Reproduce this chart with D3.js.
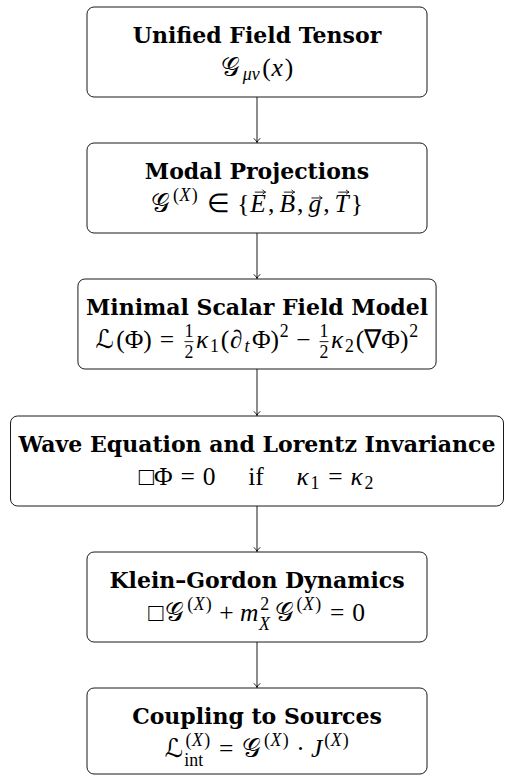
<!DOCTYPE html>
<html><head><meta charset="utf-8">
<script src="https://cdn.jsdelivr.net/npm/d3@7"></script>
<style>html,body{margin:0;padding:0;background:#fff;} svg{display:block}</style>
</head><body>
<script>
// ---------- DATA ----------
const steps = [
  "Unified Field Tensor",
  "Modal Projections",
  "Minimal Scalar Field Model",
  "Wave Equation and Lorentz Invariance",
  "Klein\u2013Gordon Dynamics",
  "Coupling to Sources"
];
const supX = [["rm","("],["it","X"],["rm",")"]];
const formula1 = [["cal","𝒢"],["sub",[["it","μν"]]],["rm","("],["it","x"],["rm",")"]];
const formula2 = [["cal","𝒢"],["sup",supX],["rel","∈"],["rm","{"],["vec","E"],["punct",","],["vec","B"],["punct",","],["vec","g"],["punct",","],["vec","T"],["rm","}"]];
const formula3 = [["cal","ℒ"],["rm","(Φ)"],["rel","="],["frac","1","2"],["it","κ"],["sub",[["rm","1"]]],["rm","("],["it","∂"],["sub",[["it","t"]]],["rm","Φ)"],["sup",[["rm","2"]]],["bin","−"],["frac","1","2"],["it","κ"],["sub",[["rm","2"]]],["rm","(∇Φ)"],["sup",[["rm","2"]]]];
const formula4 = [["rm","□Φ"],["rel","="],["rm","0"],["quad"],["rm","if"],["quad"],["it","κ"],["sub",[["rm","1"]]],["rel","="],["it","κ"],["sub",[["rm","2"]]]];
const formula5 = [["rm","□"],["cal","𝒢"],["sup",supX],["bin","+"],["it","m"],["subsup",[["it","X"]],[["rm","2"]]],["cal","𝒢"],["sup",supX],["rel","="],["rm","0"]];
const formula6 = [["cal","ℒ"],["subsup",[["rm","int"]],supX],["rel","="],["cal","𝒢"],["sup",supX],["bin","·"],["it","J"],["sup",supX]];
const formulas = [formula1, formula2, formula3, formula4, formula5, formula6];

// ---------- LAYOUT / STYLE ----------
const W = 505, H = 776;
const MATH = 25.5, TITLE = 22;
const cx = 257;
const boxH = 90, minW = 340, pad = 8;
const titleDy = 36, mathDy = 69;
const fonts = {
  it:  {family:"'Liberation Serif','Times New Roman',serif", style:"italic", weight:"normal"},
  rm:  {family:"'Liberation Serif','Times New Roman',serif", style:"normal", weight:"normal"},
  cal: {family:"'DejaVu Serif','DejaVu Sans','Noto Sans',serif", style:"normal", weight:"normal"},
  bf:  {family:"'DejaVu Serif',serif", style:"normal", weight:"bold"}
};

const svg = d3.select("body").append("svg").attr("width", W).attr("height", H);
const measurer = svg.append("text").attr("visibility","hidden");
function measure(str, kind, size){
  const f = fonts[kind];
  measurer.text(str).attr("font-family", f.family).attr("font-style", f.style)
    .attr("font-weight", f.weight).attr("font-size", size);
  return measurer.node().getComputedTextLength();
}

function layout(tokens, size){
  let x = 0; const items = [];
  const gap = 0.03*size;
  const putText = (str, kind, sz, dx, dy) => {
    const w = measure(str, kind, sz);
    items.push({type:"text", str, kind, size:sz, x:x+dx, y:dy});
    return w + gap;
  };
  tokens.forEach(tk => {
    const [type, a, b] = tk;
    if (type === "it" || type === "rm") {
      x += putText(a, type, size, 0, 0);
      if (type === "it") x += 0.04*size;
    } else if (type === "cal") {
      x += 0.04*size;
      x += putText(a, type, size, 0, 0);
      x += 0.08*size;
    } else if (type === "rel") {
      x += size*5/18; x += putText(a, "rm", size, 0, 0); x += size*5/18;
    } else if (type === "bin") {
      x += size*4/18; x += putText(a, "rm", size, 0, 0); x += size*4/18;
    } else if (type === "punct") {
      x += putText(a, "rm", size, 0, 0); x += size/6;
    } else if (type === "quad") {
      x += 1.25*size;
    } else if (type === "sup" || type === "sub" || type === "subsup") {
      const ss = size*0.7;
      let supL = null, subL = null;
      if (type === "sup") supL = layout(a, ss);
      if (type === "sub") subL = layout(a, ss);
      if (type === "subsup") { subL = layout(a, ss); supL = layout(b, ss); }
      const supShift = -0.44*size, subShift = (supL ? 0.35 : 0.17)*size;
      let w = 0;
      if (supL) { supL.items.forEach(it => items.push(Object.assign({}, it, {x: it.x + x, y: it.y + supShift}))); w = Math.max(w, supL.width); }
      if (subL) { subL.items.forEach(it => items.push(Object.assign({}, it, {x: it.x + x - (supL?0.05*size:0), y: it.y + subShift}))); w = Math.max(w, subL.width); }
      x += w + 0.05*size;
    } else if (type === "frac") {
      const ss = size*0.7;
      const wn = measure(a, "rm", ss), wd = measure(b, "rm", ss);
      const fw = Math.max(wn, wd);
      x += 0.1*size;
      items.push({type:"text", str:a, kind:"rm", size:ss, x:x+(fw-wn)/2, y:-0.42*size});
      items.push({type:"text", str:b, kind:"rm", size:ss, x:x+(fw-wd)/2, y:0.39*size});
      items.push({type:"rule", x:x, y:-0.25*size, w:fw});
      x += fw + 0.1*size;
    } else if (type === "vec") {
      const w = measure(a, "it", size);
      items.push({type:"text", str:a, kind:"it", size, x, y:0});
      const lower = a === a.toLowerCase();
      items.push({type:"vec", x: x + w*0.5 + 0.08*size, y: lower ? -0.55*size : -0.78*size, w: 0.42*size});
      x += w + 0.05*size + gap;
    }
  });
  return {items, width: x};
}

// ---------- DRAW ----------
const yScale = d3.scaleLinear().domain([0, steps.length - 1]).range([7, 688]);

const nodes = steps.map((title, i) => {
  const tw = measure(title, "bf", TITLE);
  const lay = layout(formulas[i], MATH);
  const w = Math.min(W - 8, Math.max(minW, tw + 2*pad, lay.width + 2*pad));
  const top = Math.round(yScale(i));
  const h = Math.min(boxH, H - 2 - top);
  return {title, tw, lay, w, top, h};
});

// arrows
const defs = svg.append("defs");
defs.append("marker").attr("id","arr").attr("viewBox","-6 -5 8 10")
  .attr("refX",0).attr("refY",0).attr("markerWidth",8).attr("markerHeight",10)
  .attr("markerUnits","userSpaceOnUse").attr("orient","auto")
  .append("path").attr("d","M-4.2,-3.2 Q-1.8,-0.6 0,0 Q-1.8,0.6 -4.2,3.2")
  .attr("fill","none").attr("stroke","#000").attr("stroke-width",0.9);

svg.selectAll("line.link").data(d3.pairs(nodes)).join("line")
  .attr("class","link")
  .attr("x1", cx).attr("x2", cx)
  .attr("y1", d => d[0].top + d[0].h)
  .attr("y2", d => d[1].top - 0.5)
  .attr("stroke","#000").attr("stroke-width",0.9)
  .attr("marker-end","url(#arr)");

const g = svg.selectAll("g.node").data(nodes).join("g").attr("class","node");
g.append("rect")
  .attr("x", d => cx - d.w/2).attr("y", d => d.top)
  .attr("width", d => d.w).attr("height", d => d.h)
  .attr("rx", 7).attr("ry", 7)
  .attr("fill","#fff").attr("stroke","#000").attr("stroke-width",0.9);

g.append("text")
  .attr("x", cx).attr("y", d => d.top + titleDy)
  .attr("text-anchor","middle")
  .attr("font-family", fonts.bf.family).attr("font-weight","bold")
  .attr("font-size", TITLE).attr("fill","#000")
  .text(d => d.title);

const mg = g.append("g")
  .attr("transform", d => `translate(${cx - d.lay.width/2},${d.top + mathDy})`);

mg.each(function(d){
  const sel = d3.select(this);
  const txt = sel.append("text").attr("fill","#000");
  d.lay.items.filter(it => it.type === "text").forEach(it => {
    const f = fonts[it.kind];
    txt.append("tspan").attr("x", it.x).attr("y", it.y)
      .attr("font-family", f.family).attr("font-style", f.style)
      .attr("font-size", it.size).text(it.str);
  });
  d.lay.items.forEach(it => {
    if (it.type === "rule") {
      sel.append("line").attr("x1", it.x).attr("x2", it.x + it.w)
        .attr("y1", it.y).attr("y2", it.y).attr("stroke","#000").attr("stroke-width",0.9);
    } else if (it.type === "vec") {
      const x0 = it.x - it.w/2, x1 = it.x + it.w/2;
      sel.append("path")
        .attr("d", `M${x0},${it.y} L${x1},${it.y} M${x1-3},${it.y-2.2} Q${x1-1},${it.y-0.4} ${x1},${it.y} Q${x1-1},${it.y+0.4} ${x1-3},${it.y+2.2}`)
        .attr("fill","none").attr("stroke","#000").attr("stroke-width",0.9);
    }
  });
});
measurer.remove();
</script>
</body></html>
